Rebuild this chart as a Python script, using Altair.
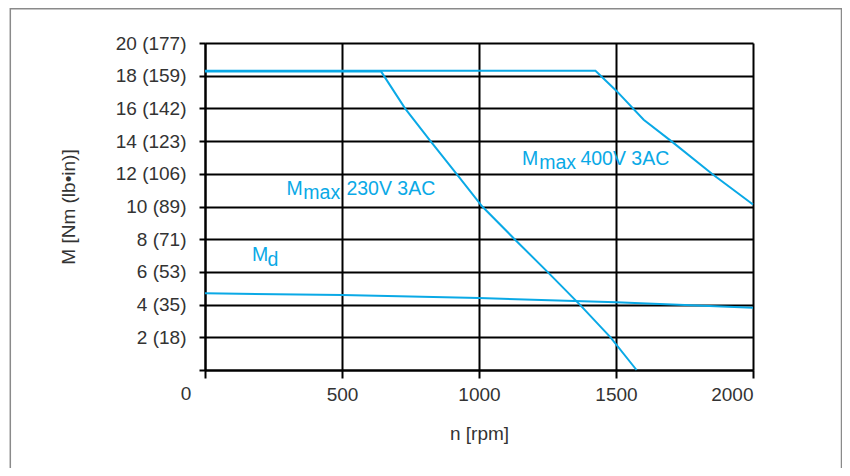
import altair as alt
import pandas as pd

# ---- data ----
rpm_230 = [0, 643, 730, 823, 918, 1012, 1130, 1250, 1368, 1480, 1575]
m_230 = [18.25, 18.25, 16, 14, 12, 10, 8, 6, 4, 2, 0]

rpm_400 = [0, 1425, 1500, 1601, 1704, 1850, 2000]
m_400 = [18.3, 18.3, 17.1, 15.31, 13.97, 12, 10.12]

rpm_md = [0, 500, 1000, 1500, 2000]
m_md = [4.69, 4.58, 4.40, 4.15, 3.81]

x_tick_values = [0, 500, 1000, 1500, 2000]
y_tick_values = [0, 2, 4, 6, 8, 10, 12, 14, 16, 18, 20]
y_tick_labels = ["", "2 (18)", "4 (35)", "6 (53)", "8 (71)", "10 (89)", "12 (106)",
                 "14 (123)", "16 (142)", "18 (159)", "20 (177)"]

ann_text = ["M", "max", "230V 3AC", "M", "max", "400V 3AC", "M", "d"]
ann_x = [297, 359, 516, 1157, 1220, 1370, 171.5, 228.5]
ann_y = [10.73, 10.43, 10.73, 12.52, 12.28, 12.52, 6.66, 6.35]

origin_label = ["0"]

BLUE = "#0aa9e6"
TXT = "#333333"
FONT = "Liberation Sans"

rows = []
for name, xs, ys in [("230V", rpm_230, m_230), ("400V", rpm_400, m_400), ("Md", rpm_md, m_md)]:
    for a, b in zip(xs, ys):
        rows.append({"series": name, "rpm": a, "M": b})
df = pd.DataFrame(rows)
ann = pd.DataFrame({"t": ann_text, "rpm": ann_x, "M": ann_y})
zero_df = pd.DataFrame({"t": origin_label, "rpm": [0], "M": [0]})

label_expr = "[" + ",".join("'%s'" % s for s in y_tick_labels) + "][round(datum.value / 2)]"

xscale = alt.Scale(domain=[0, 2000], nice=False)
yscale = alt.Scale(domain=[0, 20], nice=False)

xaxis = alt.Axis(values=x_tick_values, tickCount=5, format="d", title="n [rpm]",
                 labelExpr="datum.value == 0 ? '' : datum.label", labelOverlap=False,
                 grid=True, gridColor="black", gridWidth=2,
                 domainColor="black", domainWidth=2,
                 tickColor="black", tickWidth=2, tickSize=8,
                 labelPadding=7, labelFont=FONT, labelFontSize=19, labelColor=TXT,
                 titleFont=FONT, titleFontSize=19, titleColor=TXT, titleFontWeight="normal",
                 titleX=274, titleY=54)
yaxis = alt.Axis(values=y_tick_values, tickCount=11, title="M [Nm (lb•in)]",
                 labelExpr=label_expr, labelOverlap=False,
                 grid=True, gridColor="black", gridWidth=2,
                 domainColor="black", domainWidth=2,
                 tickColor="black", tickWidth=2, tickSize=6,
                 labelPadding=13, labelFont=FONT, labelFontSize=19, labelColor=TXT,
                 titleFont=FONT, titleFontSize=19, titleColor=TXT, titleFontWeight="normal",
                 titleX=-127, titleY=163.5)

lines = alt.Chart(df).mark_line(strokeWidth=2, color=BLUE).encode(
    x=alt.X("rpm:Q", scale=xscale, axis=xaxis),
    y=alt.Y("M:Q", scale=yscale, axis=yaxis),
    detail="series:N",
)

texts = alt.Chart(ann).mark_text(align="left", baseline="alphabetic", font=FONT,
                                 fontSize=19.5, color=BLUE).encode(
    x=alt.X("rpm:Q", scale=xscale, axis=xaxis), y=alt.Y("M:Q", scale=yscale, axis=yaxis),
    text="t:N"
)

zero_txt = alt.Chart(zero_df).mark_text(align="center", baseline="top", font=FONT,
                                        fontSize=19, color=TXT, dx=-19, dy=15).encode(
    x=alt.X("rpm:Q", scale=xscale, axis=xaxis), y=alt.Y("M:Q", scale=yscale, axis=yaxis),
    text="t:N"
)

frame = alt.Chart(zero_df).mark_rect(fillOpacity=0, stroke="#8a8a8a", strokeWidth=1.5).encode(
    x=alt.value(-194.7), x2=alt.value(636.5), y=alt.value(-34.2), y2=alt.value(437)
)

chart = alt.layer(lines, texts, zero_txt, frame).properties(
    width=548, height=327,
    autosize=alt.AutoSizeParams(type="none"),
    padding={"left": 197, "top": 35, "right": 89, "bottom": 98},
).configure_view(stroke=None)

chart.save("out.html", embed_options={"renderer": "svg", "actions": False})
